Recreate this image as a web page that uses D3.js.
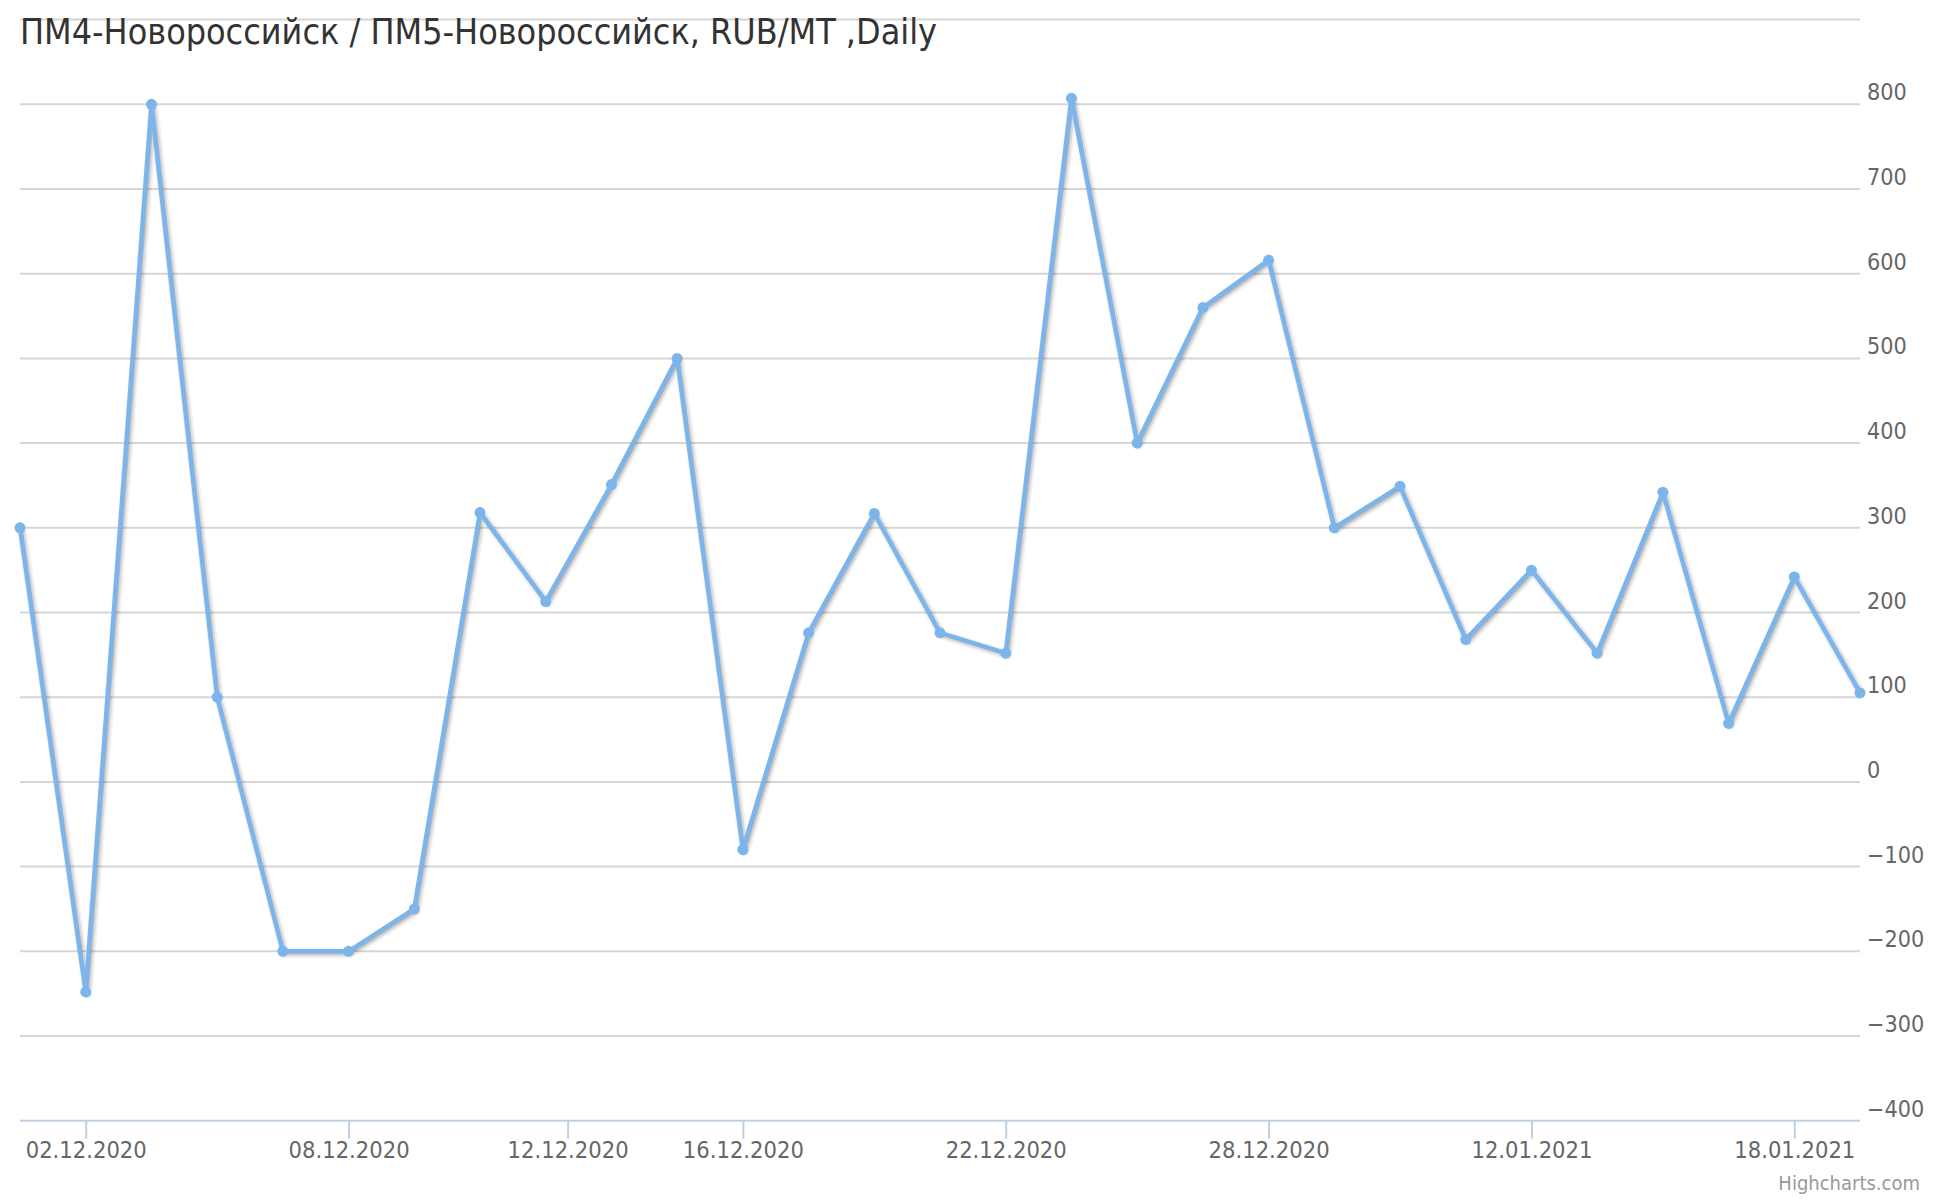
<!DOCTYPE html>
<html>
<head>
<meta charset="utf-8">
<script src="https://cdn.jsdelivr.net/npm/d3@7"></script>
<style>
  html, body { margin: 0; padding: 0; background: #ffffff; }
  svg text { font-family: "DejaVu Sans Condensed", "DejaVu Sans", sans-serif; font-stretch: condensed; }
</style>
</head>
<body>
<svg id="chart" width="1940" height="1200"></svg>
<script>
// ---- Data ----
const chartTitle = "ПМ4-Новороссийск / ПМ5-Новороссийск, RUB/MT ,Daily";
const dates = [
  "01.12.2020","02.12.2020","03.12.2020","04.12.2020","07.12.2020","08.12.2020",
  "09.12.2020","10.12.2020","11.12.2020","14.12.2020","15.12.2020","16.12.2020",
  "17.12.2020","18.12.2020","21.12.2020","22.12.2020","23.12.2020","24.12.2020",
  "25.12.2020","28.12.2020","29.12.2020","30.12.2020","11.01.2021","12.01.2021",
  "13.01.2021","14.01.2021","15.01.2021","18.01.2021","19.01.2021"
];
const values = [
  300, -248, 800, 100, -200, -200,
  -150, 318, 213, 351, 500, -80,
  176, 317, 176, 152, 807, 400,
  560, 616, 300, 349, 168, 250,
  152, 342, 69, 242, 105
];
const xTickLabels = ["02.12.2020","08.12.2020","12.12.2020","16.12.2020","22.12.2020","28.12.2020","12.01.2021","18.01.2021"];
const yTickValues = [-400,-300,-200,-100,0,100,200,300,400,500,600,700,800,900];
const yLabelValues = [-400,-300,-200,-100,0,100,200,300,400,500,600,700,800];
const creditText = "Highcharts.com";

// ---- Layout ----
const W = 1940, H = 1200;
const plot = { left: 20, right: 1860, top: 19.6, bottom: 1120.7 };
const parse = d3.timeParse("%d.%m.%Y");
const dateTimes = dates.map(d => +parse(d));

// ordinal (gap-less) mapping: date -> index, piecewise linear between points
const ordinal = d3.scaleLinear().domain(dateTimes).range(d3.range(dates.length));
const x = d3.scaleLinear().domain([0, dates.length - 1]).range([plot.left, plot.right]);
const y = d3.scaleLinear().domain([-400, 900]).range([plot.bottom, plot.top]);

const svg = d3.select("#chart");
svg.append("rect").attr("width", W).attr("height", H).attr("fill", "#ffffff");

// gridlines
svg.append("g").selectAll("line").data(yTickValues.filter(v => v !== -400)).join("line")
  .attr("x1", plot.left).attr("x2", plot.right)
  .attr("y1", d => y(d)).attr("y2", d => y(d))
  .attr("stroke", "#d6d6d6").attr("stroke-width", 2);

// y labels (right side)
const fmt = v => (v < 0 ? "\u2212" + Math.abs(v) : String(v));
svg.append("g").selectAll("text").data(yLabelValues).join("text")
  .attr("x", 1867).attr("y", d => y(d) - 4)
  .attr("font-size", 23.2).attr("fill", "#666666")
  .text(fmt);

// x axis
const xAxisG = svg.append("g").attr("transform", `translate(0,${plot.bottom})`);
const xAxis = d3.axisBottom(x)
  .tickValues(xTickLabels.map(s => ordinal(+parse(s))))
  .tickFormat((d, i) => xTickLabels[i])
  .tickSize(18).tickPadding(19).tickSizeOuter(0);
xAxisG.call(xAxis);
xAxisG.select(".domain").attr("stroke", "#c0d0e0").attr("stroke-width", 2)
  .attr("d", `M${plot.left},0H${plot.right}`);
xAxisG.selectAll(".tick line").attr("stroke", "#c0d0e0").attr("stroke-width", 2);
xAxisG.selectAll(".tick text").attr("font-size", 23.5).attr("fill", "#666666")
  .attr("font-family", null).attr("dy", 0);

// series
const line = d3.line().x((d, i) => x(i)).y(d => y(d));
const sg = svg.append("g");
[[10, 0.05], [6, 0.1], [2, 0.15]].forEach(([w, o]) => {
  sg.append("path").datum(values).attr("d", line)
    .attr("fill", "none").attr("stroke", "#000").attr("stroke-opacity", o)
    .attr("stroke-width", w).attr("stroke-linejoin", "round")
    .attr("transform", "translate(2,2)");
});
sg.append("path").datum(values).attr("d", line)
  .attr("fill", "none").attr("stroke", "#7cb5ec").attr("stroke-width", 4.5)
  .attr("stroke-linejoin", "round").attr("stroke-linecap", "round");
sg.selectAll("circle").data(values).join("circle")
  .attr("cx", (d, i) => x(i)).attr("cy", d => y(d)).attr("r", 5.5)
  .attr("fill", "#7cb5ec");

// title
svg.append("text").attr("x", 20).attr("y", 44)
  .attr("font-size", 35.6).attr("fill", "#333333").text(chartTitle);

// credits
svg.append("text").attr("x", 1920).attr("y", 1190).attr("text-anchor", "end")
  .attr("font-size", 20).attr("fill", "#999999").text(creditText);
</script>
</body>
</html>
